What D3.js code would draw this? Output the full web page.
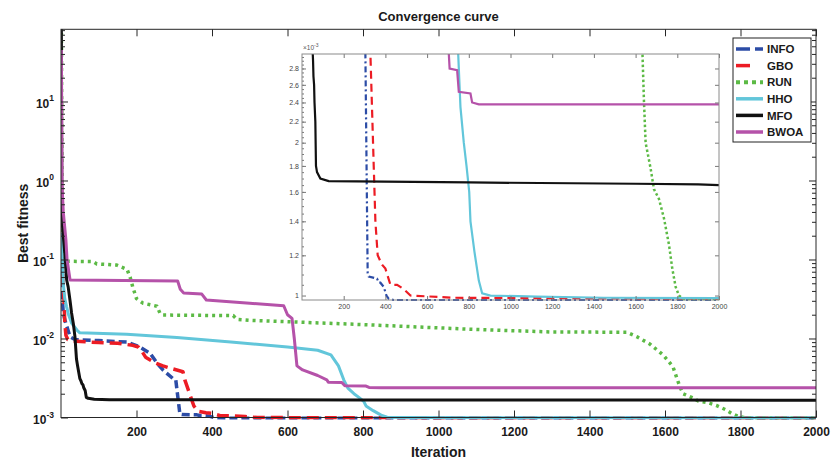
<!DOCTYPE html>
<html>
<head>
<meta charset="utf-8">
<script src="https://cdn.jsdelivr.net/npm/d3@7"></script>
<style>
  body { margin: 0; background: #fff; }
  svg { display: block; font-family: "Liberation Sans", Arial, sans-serif; }
</style>
</head>
<body>
<svg id="chart" width="831" height="461"></svg>
<script>
// data: [iteration, best fitness]

const seriesNames = ['INFO', 'GBO', 'RUN', 'HHO', 'MFO', 'BWOA'];

const infoData = [[1, 0.08], [2, 0.055], [4, 0.03], [6, 0.021], [12, 0.016], [18, 0.013], [24, 0.0105],
  [37, 0.0097], [100, 0.0094], [175, 0.009], [209, 0.0078], [236, 0.0065], [254, 0.0049], [270, 0.004],
  [297, 0.0031], [304, 0.003], [315, 0.0011], [320, 0.00109], [360, 0.00108], [368, 0.00106], [376, 0.00106],
  [392, 0.00104], [405, 0.001], [416, 0.000985], [440, 0.00098], [2000, 0.00098]];

const gboData = [[1, 0.11], [3, 0.1], [5, 0.05], [8, 0.03], [10, 0.016], [13, 0.011], [18, 0.0097],
  [40, 0.0092], [100, 0.0089], [150, 0.0087], [190, 0.0082], [205, 0.0078], [215, 0.0068], [224, 0.0058],
  [250, 0.0049], [270, 0.0045], [290, 0.0042], [323, 0.0038], [328, 0.003], [344, 0.0018], [352, 0.0014],
  [363, 0.0012], [384, 0.00115], [400, 0.00113], [424, 0.00105], [456, 0.00105], [488, 0.00103],
  [520, 0.001], [728, 0.00099], [2000, 0.000985]];

const runData = [[1, 90], [2, 5], [3, 0.3], [5, 0.1], [10, 0.095], [85, 0.094], [95, 0.088], [148, 0.085],
  [175, 0.075], [183, 0.06], [190, 0.045], [200, 0.032], [217, 0.028], [254, 0.0256], [262, 0.021],
  [270, 0.0198], [456, 0.0195], [466, 0.0175], [500, 0.017], [800, 0.015], [1100, 0.013], [1300, 0.0121],
  [1499, 0.012], [1526, 0.0105], [1560, 0.0085], [1595, 0.0062], [1621, 0.0044], [1634, 0.0029],
  [1640, 0.00242], [1648, 0.002], [1672, 0.00178], [1688, 0.00162], [1712, 0.00155], [1736, 0.00142],
  [1760, 0.00126], [1776, 0.00113], [1792, 0.00104], [1808, 0.001], [1830, 0.000985], [2000, 0.000985]];

const hhoData = [[1, 0.216], [3, 0.12], [6, 0.05], [10, 0.032], [15, 0.025], [20, 0.02], [28, 0.0157],
  [42, 0.0128], [50, 0.0118], [174, 0.0113], [307, 0.0103], [450, 0.009], [600, 0.0078], [680, 0.0071],
  [715, 0.0062], [735, 0.0045], [749, 0.003], [760, 0.00235], [776, 0.002], [789, 0.0018], [802, 0.0016],
  [808, 0.0014], [827, 0.00122], [848, 0.00107], [864, 0.00101], [904, 0.001], [1128, 0.000995],
  [1448, 0.00099], [2000, 0.000988]];

const mfoData = [[1, 90], [2, 0.76], [4, 0.26], [6, 0.2], [10, 0.12], [15, 0.055], [19, 0.045], [24, 0.03],
  [28, 0.021], [33, 0.015], [37, 0.0105], [41, 0.0055], [44, 0.0045], [50, 0.0031], [53, 0.0029],
  [55, 0.0027], [58, 0.0026], [60, 0.0024], [64, 0.0022], [67, 0.0018], [72, 0.00175], [88, 0.0017],
  [128, 0.00168], [800, 0.00167], [1600, 0.00166], [1900, 0.001655], [2000, 0.00165]];

const bwoaData = [[1, 45], [3, 0.83], [6, 0.4], [13, 0.177], [16, 0.1], [24, 0.055], [309, 0.0535],
  [316, 0.042], [325, 0.0377], [373, 0.0365], [385, 0.0307], [500, 0.028], [590, 0.026], [600, 0.02],
  [612, 0.018], [618, 0.01], [625, 0.0045], [640, 0.004], [680, 0.0034], [704, 0.003], [708, 0.0028],
  [744, 0.00278], [752, 0.00252], [808, 0.0025], [816, 0.0024], [848, 0.00238], [2000, 0.00238]];

const iterTicks = [200, 400, 600, 800, 1000, 1200, 1400, 1600, 1800, 2000];
const fitnessTicks = [1e-3, 1e-2, 1e-1, 1, 10];
const insetYTicks = [1, 1.2, 1.4, 1.6, 1.8, 2, 2.2, 2.4, 2.6, 2.8];

// styles

const styles = {
  INFO: { color: '#2c4ca6', width: 3.5, dash: '8,4', insetDash: '6,3,2,3', legendDash: '14,5' },
  GBO: { color: '#ec1c24', width: 3.5, dash: '12,6', insetDash: '8,5', legendDash: '14,14' },
  RUN: { color: '#5cba45', width: 3.5, dash: '3,4', insetDash: '2.5,2.5', legendDash: '4,4' },
  HHO: { color: '#62c6da', width: 3, dash: null, insetDash: null, legendDash: null },
  MFO: { color: '#111111', width: 3, dash: null, insetDash: null, legendDash: null },
  BWOA: { color: '#b552a9', width: 3, dash: null, insetDash: null, legendDash: null }
};

const allData = [infoData, gboData, runData, hhoData, mfoData, bwoaData];
const series = seriesNames.map((name, i) => ({ name, data: allData[i] }));

const box = { left: 61, right: 816, top: 29.3, bottom: 417.5 };
const inset = { left: 302, right: 719, top: 54, bottom: 300 };
const axisColor = '#262626';
const intFormat = d3.format('d');

const svg = d3.select('#chart');

// scales

const x = d3.scaleLinear().domain([0, 2000]).range([box.left, box.right]);
const y = d3.scaleLog().domain([1e-3, 82]).range([box.bottom, box.top]);

const xi = d3.scaleLinear().domain([0, 2000]).range([inset.left, inset.right]);
const yi = d3.scaleLog().domain([0.98e-3, 2.99e-3]).range([inset.bottom, inset.top]);

const minorTicks = [];
for (let e = -3; e <= 1; e++) {
  for (let m = 2; m <= 9; m++) {
    const v = m * Math.pow(10, e);
    if (v < 82) minorTicks.push(v);
  }
}

const insetMinor = d3.range(1.05, 2.99, 0.05).map(v => v * 1e-3);

// clip paths

const defs = svg.append('defs');
defs.append('clipPath').attr('id', 'clip-main')
  .append('rect')
    .attr('x', box.left).attr('y', box.top)
    .attr('width', box.right - box.left).attr('height', box.bottom - box.top + 2);
defs.append('clipPath').attr('id', 'clip-inset')
  .append('rect')
    .attr('x', inset.left).attr('y', inset.top)
    .attr('width', inset.right - inset.left).attr('height', inset.bottom - inset.top + 1);

// main curves

const line = d3.line().x(d => x(d[0])).y(d => y(d[1]));

svg.append('g')
    .attr('clip-path', 'url(#clip-main)')
  .selectAll('path')
  .data(series)
  .join('path')
    .attr('d', d => line(d.data))
    .attr('fill', 'none')
    .attr('stroke', d => styles[d.name].color)
    .attr('stroke-width', d => styles[d.name].width)
    .attr('stroke-dasharray', d => styles[d.name].dash)
    .attr('stroke-linejoin', 'round');

// main axes

function styleAxis(g) {
  g.select('.domain').remove();
  g.selectAll('.tick line').attr('stroke', axisColor);
  g.selectAll('.tick text')
    .attr('fill', '#1a1a1a')
    .attr('font-size', 12)
    .attr('font-weight', 'bold')
    .attr('font-family', '"Liberation Sans", Arial, sans-serif');
}

svg.append('g')
    .attr('transform', `translate(0, ${box.bottom})`)
    .call(d3.axisBottom(x).tickValues(iterTicks).tickFormat(intFormat)
      .tickSizeInner(-7).tickSizeOuter(0).tickPadding(10))
    .call(styleAxis);

svg.append('g')
    .attr('transform', `translate(0, ${box.top})`)
    .call(d3.axisTop(x).tickValues(iterTicks).tickSizeInner(-7).tickSizeOuter(0).tickFormat(''))
    .call(styleAxis);

[[box.left, d3.axisLeft], [box.right, d3.axisRight]].forEach(([pos, axisFn]) => {
  svg.append('g')
      .attr('transform', `translate(${pos}, 0)`)
      .call(axisFn(y).tickValues(fitnessTicks).tickSizeInner(-7).tickSizeOuter(0).tickFormat(''))
      .call(styleAxis);
  svg.append('g')
      .attr('transform', `translate(${pos}, 0)`)
      .call(axisFn(y).tickValues(minorTicks).tickSizeInner(-4).tickSizeOuter(0).tickFormat(''))
      .call(styleAxis);
});

// y tick labels with superscripts

const yLabels = svg.append('g')
    .attr('font-size', 12)
    .attr('font-weight', 'bold')
    .attr('fill', '#1a1a1a')
    .attr('text-anchor', 'end');

yLabels.selectAll('text')
  .data(fitnessTicks)
  .join('text')
    .attr('x', 54)
    .attr('y', d => y(d) + 6.5)
    .call(t => t.append('tspan').text('10'))
    .call(t => t.append('tspan')
        .attr('dy', -6.5)
        .attr('font-size', 8.5)
        .text(d => Math.round(Math.log10(d))));

svg.append('rect')
    .attr('x', box.left).attr('y', box.top)
    .attr('width', box.right - box.left).attr('height', box.bottom - box.top)
    .attr('fill', 'none')
    .attr('stroke', axisColor)
    .attr('stroke-width', 1);

// titles

svg.append('text')
    .attr('x', (box.left + box.right) / 2)
    .attr('y', 20.5)
    .attr('text-anchor', 'middle')
    .attr('font-size', 13)
    .attr('font-weight', 'bold')
    .attr('fill', '#1a1a1a')
    .text('Convergence curve');

svg.append('text')
    .attr('x', (box.left + box.right) / 2)
    .attr('y', 457)
    .attr('text-anchor', 'middle')
    .attr('font-size', 14)
    .attr('font-weight', 'bold')
    .attr('fill', '#1a1a1a')
    .text('Iteration');

svg.append('text')
    .attr('transform', `translate(28, ${(box.top + box.bottom) / 2}) rotate(-90)`)
    .attr('text-anchor', 'middle')
    .attr('font-size', 14)
    .attr('font-weight', 'bold')
    .attr('fill', '#1a1a1a')
    .text('Best fitness');

// inset

const ig = svg.append('g').attr('class', 'inset');

ig.append('rect')
    .attr('x', inset.left).attr('y', inset.top)
    .attr('width', inset.right - inset.left).attr('height', inset.bottom - inset.top)
    .attr('fill', 'white');

const insetLine = d3.line().x(d => xi(d[0])).y(d => yi(d[1]));

ig.append('g')
    .attr('clip-path', 'url(#clip-inset)')
  .selectAll('path')
  .data(series)
  .join('path')
    .attr('d', d => insetLine(d.data))
    .attr('fill', 'none')
    .attr('stroke', d => styles[d.name].color)
    .attr('stroke-width', d => d.name === 'RUN' ? 2.5 : 2.2)
    .attr('stroke-dasharray', d => styles[d.name].insetDash);

function styleInsetAxis(g) {
  g.select('.domain').remove();
  g.selectAll('.tick line').attr('stroke', '#777');
  g.selectAll('.tick text')
    .attr('fill', '#444')
    .attr('font-size', 7)
    .attr('font-family', '"Liberation Sans", Arial, sans-serif');
}

ig.append('g')
    .attr('transform', `translate(0, ${inset.bottom})`)
    .call(d3.axisBottom(xi).tickValues(iterTicks).tickFormat(intFormat)
      .tickSizeInner(-4).tickSizeOuter(0).tickPadding(4))
    .call(styleInsetAxis);

ig.append('g')
    .attr('transform', `translate(0, ${inset.top})`)
    .call(d3.axisTop(xi).tickValues(iterTicks).tickSizeInner(-4).tickSizeOuter(0).tickFormat(''))
    .call(styleInsetAxis);

ig.append('g')
    .attr('transform', `translate(${inset.left}, 0)`)
    .call(d3.axisLeft(yi).tickValues(insetYTicks.map(v => v * 1e-3)).tickSizeInner(-4).tickSizeOuter(0)
      .tickPadding(3).tickFormat(d => d3.format('~g')(+(d * 1000).toFixed(1))))
    .call(styleInsetAxis);

ig.append('g')
    .attr('transform', `translate(${inset.left}, 0)`)
    .call(d3.axisLeft(yi).tickValues(insetMinor).tickSizeInner(-2).tickSizeOuter(0).tickFormat(''))
    .call(styleInsetAxis);

ig.append('g')
    .attr('transform', `translate(${inset.right}, 0)`)
    .call(d3.axisRight(yi).tickValues(insetYTicks.map(v => v * 1e-3)).tickSizeInner(-4).tickSizeOuter(0).tickFormat(''))
    .call(styleInsetAxis);

ig.append('rect')
    .attr('x', inset.left).attr('y', inset.top)
    .attr('width', inset.right - inset.left).attr('height', inset.bottom - inset.top)
    .attr('fill', 'none')
    .attr('stroke', '#8a8a8a')
    .attr('stroke-width', 1);

ig.append('text')
    .attr('x', inset.left + 1)
    .attr('y', inset.top - 4)
    .attr('font-size', 6.5)
    .attr('fill', '#555')
    .call(t => t.append('tspan').text('\u00d710'))
    .call(t => t.append('tspan').attr('dy', -3).attr('font-size', 5).text('-3'));

// legend

const legend = svg.append('g').attr('transform', 'translate(733, 38)');

legend.append('rect')
    .attr('width', 78)
    .attr('height', 104)
    .attr('fill', 'white')
    .attr('stroke', '#222')
    .attr('stroke-width', 1);

const item = legend.selectAll('.item')
  .data(series)
  .join('g')
    .attr('class', 'item')
    .attr('transform', (d, i) => `translate(0, ${11 + i * 16.6})`);

item.append('line')
    .attr('x1', 3).attr('x2', 30)
    .attr('stroke', d => styles[d.name].color)
    .attr('stroke-width', d => d.name === 'RUN' ? 4 : 3.5)
    .attr('stroke-dasharray', d => styles[d.name].legendDash);

item.append('text')
    .attr('x', 34)
    .attr('y', 4.2)
    .attr('font-size', 11.5)
    .attr('font-weight', 'bold')
    .attr('fill', '#1a1a1a')
    .text(d => d.name);
</script>
</body>
</html>
